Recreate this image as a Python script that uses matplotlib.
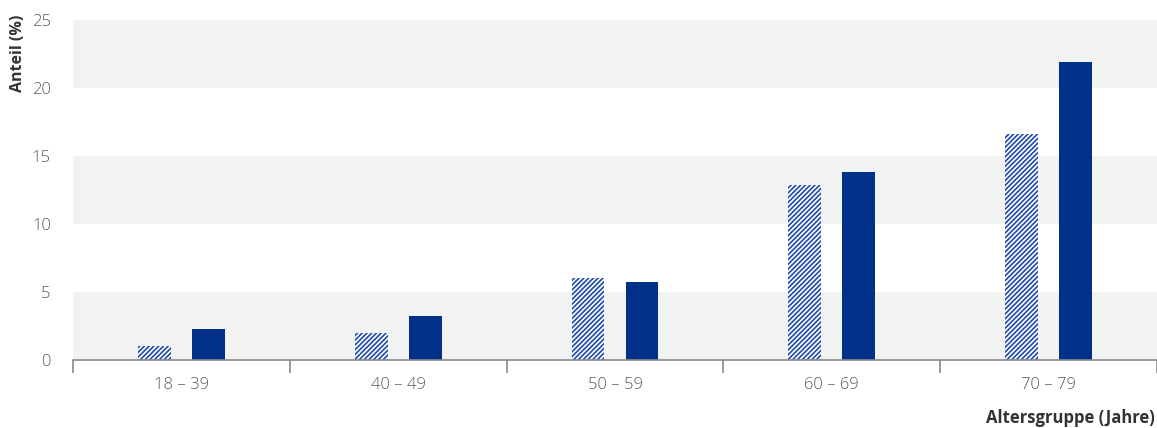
import matplotlib
matplotlib.use("Agg")
import matplotlib.pyplot as plt
import numpy as np

categories = ["18 – 39", "40 – 49", "50 – 59", "60 – 69", "70 – 79"]
series_hatched = [1.0, 2.0, 6.0, 12.9, 16.6]
series_solid = [2.3, 3.2, 5.7, 13.8, 21.9]
yticks = [0, 5, 10, 15, 20, 25]

plt.rcParams['font.family'] = ['Open Sans', 'DejaVu Sans']
plt.rcParams['hatch.linewidth'] = 1.2
plt.rcParams['hatch.color'] = '#1f4aa8'

fig = plt.figure(figsize=(11.57, 4.28), dpi=100)
ax = fig.add_axes([73/1157, 68/428, 1 - 73/1157, 340/428])

x = np.arange(len(categories))
w = 0.152
off = 0.1245

# background bands
for lo in [0, 10, 20]:
    ax.axhspan(lo, lo + 5, color='#f1f2f2', zorder=0, lw=0)

ax.bar(x - off, series_hatched, width=w, color='white', edgecolor='#1f4aa8',
       hatch='///////', linewidth=0, zorder=2)
ax.bar(x + off, series_solid, width=w, color='#003087', linewidth=0, zorder=2)

ax.set_xlim(-0.5, len(categories) - 0.5)
ax.set_ylim(0, 25)
ax.set_yticks(yticks)
ax.set_yticklabels([str(t) for t in yticks])

for s in ['top', 'right', 'left']:
    ax.spines[s].set_visible(False)
ax.spines['bottom'].set_color('#8a8a8a')
ax.spines['bottom'].set_linewidth(1.2)
ax.spines['bottom'].set_zorder(3)

ax.set_xticks(x)
ax.set_xticklabels(categories)
ax.tick_params(axis='x', length=0, pad=12, labelsize=12, labelcolor='#5a5a5a')
ax.set_xticks(np.arange(0.5, len(categories) - 0.5 + 1, 1.0).tolist() + [-0.5 + 0.0001], minor=True)
ax.tick_params(axis='x', which='minor', length=9, width=1.2, color='#8a8a8a', direction='out')
ax.tick_params(axis='y', length=0, pad=16, labelsize=12, labelcolor='#5a5a5a')
for lbl in ax.get_yticklabels() + ax.get_xticklabels():
    lbl.set_fontweight('light')

fig.text(18/1157, 1 - 15/428, "Anteil (%)", rotation=90, ha='center', va='top',
         fontsize=11.5, fontweight='bold', color='#333333')
fig.text(1155/1157, 1 - 418/428, "Altersgruppe (Jahre)", ha='right', va='center',
         fontsize=12, fontweight='bold', color='#333333')

fig.savefig("out.png", dpi=100)
